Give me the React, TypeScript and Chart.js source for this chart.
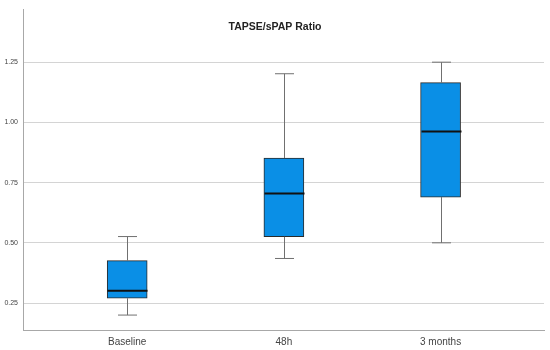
import React, { useEffect, useRef } from "react";
import { Chart, registerables } from "chart.js";

Chart.register(...registerables);

const categories = ["Baseline", "48h", "3 months"];
const whiskerLow = [0.2, 0.435, 0.5];
const q1 = [0.27, 0.525, 0.69];
const median = [0.301, 0.705, 0.962];
const q3 = [0.426, 0.852, 1.165];
const whiskerHigh = [0.526, 1.202, 1.25];
const yTicks = [0.25, 0.5, 0.75, 1.0, 1.25];
const titleText = "TAPSE/sPAP Ratio";

const boxPlugin = {
  id: "boxExtras",
  afterDatasetsDraw(chart: any) {
    const { ctx } = chart;
    const xs = chart.scales.x;
    const ys = chart.scales.y;
    const half = 20;
    const cap = 9.5;
    ctx.save();
    categories.forEach((_, i) => {
      const cx = Math.round(xs.getPixelForValue(i)) + 0.5;
      const yLo = ys.getPixelForValue(whiskerLow[i]);
      const yQ1 = ys.getPixelForValue(q1[i]);
      const yQ3 = ys.getPixelForValue(q3[i]);
      const yHi = ys.getPixelForValue(whiskerHigh[i]);
      const yMed = ys.getPixelForValue(median[i]);
      ctx.strokeStyle = "#707070";
      ctx.lineWidth = 1;
      ctx.beginPath();
      ctx.moveTo(cx, yQ3);
      ctx.lineTo(cx, yHi);
      ctx.moveTo(cx - cap, yHi);
      ctx.lineTo(cx + cap, yHi);
      ctx.moveTo(cx, yQ1);
      ctx.lineTo(cx, yLo);
      ctx.moveTo(cx - cap, yLo);
      ctx.lineTo(cx + cap, yLo);
      ctx.stroke();
      ctx.strokeStyle = "#111111";
      ctx.lineWidth = 2;
      ctx.beginPath();
      ctx.moveTo(cx - half, yMed);
      ctx.lineTo(cx + half, yMed);
      ctx.stroke();
    });
    ctx.restore();
  },
  afterDraw(chart: any) {
    const { ctx } = chart;
    ctx.save();
    ctx.font = "bold 10.5px 'Liberation Sans', Arial, sans-serif";
    ctx.fillStyle = "#222222";
    ctx.textAlign = "center";
    ctx.textBaseline = "middle";
    ctx.fillText(titleText, chart.width / 2, 27);
    ctx.restore();
  },
};

export default function App() {
  const ref = useRef<HTMLCanvasElement>(null);
  useEffect(() => {
    document.body.style.margin = "0";
    const chart = new Chart(ref.current!, {
      type: "bar",
      data: {
        datasets: [
          {
            data: categories.map((_, i) => ({ x: i, y: [q1[i], q3[i]] })) as any,
            backgroundColor: "#0a8fe6",
            borderColor: "#2a2a2a",
            borderWidth: 1,
            borderSkipped: false,
            barThickness: 40,
          },
        ],
      },
      options: {
        animation: false,
        responsive: false,
        maintainAspectRatio: false,
        layout: { padding: { left: 0, right: 6, top: 8, bottom: 0 } },
        plugins: { legend: { display: false }, tooltip: { enabled: false }, title: { display: false } },
        scales: {
          x: {
            type: "linear",
            offset: false,
            min: -0.665,
            max: 2.66,
            afterBuildTicks: (s: any) => {
              s.ticks = categories.map((_, i) => ({ value: i }));
            },
            afterFit: (s: any) => {
              s.height = 20;
            },
            ticks: {
              callback: (v: any) => categories[v as number] ?? "",
              font: { family: "'Liberation Sans', Arial, sans-serif", size: 10 },
              color: "#444444",
              padding: 6,
              maxRotation: 0,
              autoSkip: false,
            },
            grid: { display: false, drawTicks: false, offset: false },
            border: { display: true, color: "#a8a8a8", width: 1 },
          },
          y: {
            min: 0.138,
            max: 1.47,
            afterBuildTicks: (s: any) => {
              s.ticks = yTicks.map((v) => ({ value: v }));
            },
            afterFit: (s: any) => {
              s.width = 23;
            },
            ticks: {
              callback: (v: any) => Number(v).toFixed(2),
              font: { family: "'Liberation Sans', Arial, sans-serif", size: 7 },
              color: "#444444",
              padding: 5,
            },
            grid: { color: "#d4d4d4", drawTicks: false, lineWidth: 1 },
            border: { display: true, color: "#a8a8a8", width: 1 },
          },
        },
      },
      plugins: [boxPlugin],
    });
    return () => chart.destroy();
  }, []);
  return (
    <div style={{ width: 550, height: 350, background: "#fff" }}>
      <canvas ref={ref} width={550} height={350} style={{ display: "block" }} />
    </div>
  );
}
